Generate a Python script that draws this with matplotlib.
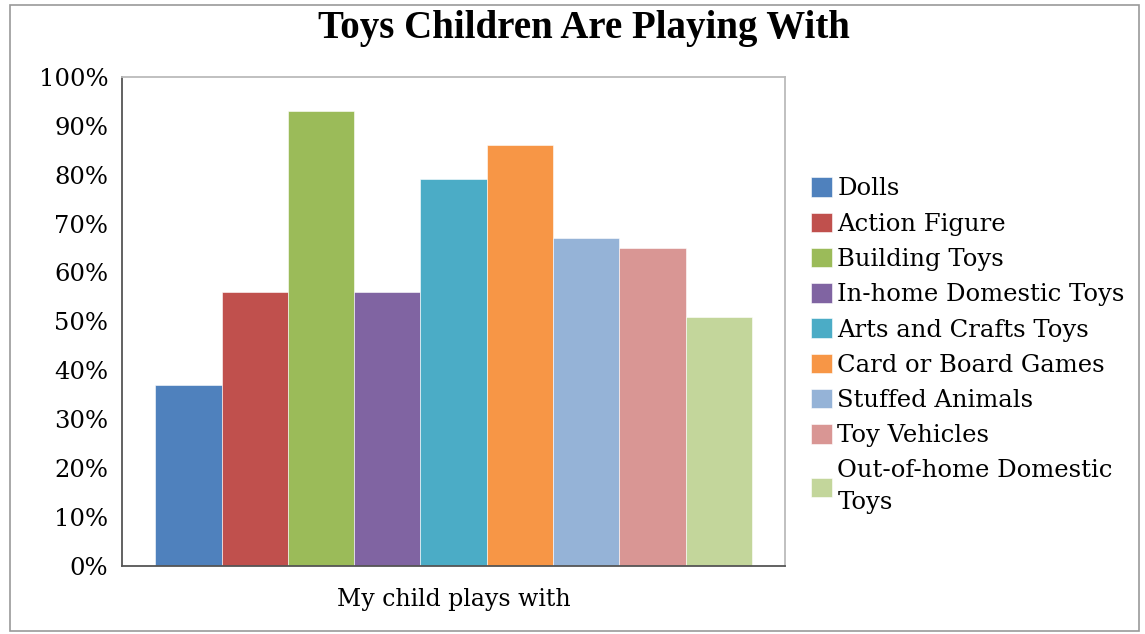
import matplotlib
matplotlib.use("Agg")
import matplotlib.pyplot as plt
from matplotlib.patches import Rectangle

# chart data
title = "Toys Children Are Playing With"
group_label = "My child plays with"
toys = ["Dolls", "Action Figure", "Building Toys", "In-home Domestic Toys",
        "Arts and Crafts Toys", "Card or Board Games", "Stuffed Animals",
        "Toy Vehicles", "Out-of-home Domestic\nToys"]
shares = [37, 56, 93, 56, 79, 86, 67, 65, 51]
colors = ["#4F81BD", "#C0504D", "#9BBB59", "#8064A2", "#4BACC6",
          "#F79646", "#95B3D7", "#D99694", "#C3D69B"]
yticks = [0, 10, 20, 30, 40, 50, 60, 70, 80, 90, 100]

serif = "DejaVu Serif"

fig = plt.figure(figsize=(11.45, 6.34), dpi=100)
ax = fig.add_axes([0.1066, 0.107, 0.579, 0.772])

# grouped bars: one category, nine series, gap width 100%
n = len(shares)
width = 1.0 / (n + 1)
for i, (name, val, c) in enumerate(zip(toys, shares, colors)):
    x = (i - (n - 1) / 2) * width
    ax.bar(x, val, width, color=c, edgecolor="white", linewidth=0.4, label=name)

ax.set_xlim(-0.5, 0.5)
ax.set_ylim(0, 100)
ax.set_yticks(yticks)
ax.set_yticklabels(["%d%%" % t for t in yticks], fontsize=17.5, family=serif)
ax.set_xticks([0])
ax.set_xticklabels([group_label], fontsize=17, family=serif)
ax.tick_params(axis="both", length=0)
ax.tick_params(axis="y", pad=10)
ax.tick_params(axis="x", pad=16)

for s in ["left", "bottom"]:
    ax.spines[s].set_color("#555555")
    ax.spines[s].set_linewidth(1.3)
for s in ["top", "right"]:
    ax.spines[s].set_color("#BBBBBB")
    ax.spines[s].set_linewidth(1.3)

leg = ax.legend(loc="center left", bbox_to_anchor=(1.025, 0.45), frameon=False,
                prop={"family": serif, "size": 17.5}, handlelength=0.85,
                handleheight=0.85, handletextpad=0.22, labelspacing=0.5,
                borderaxespad=0)
for t in leg.get_texts():
    t.set_linespacing(1.5)

fig.text(0.51, 0.955, title, ha="center", va="center", fontsize=28,
         fontweight="bold", family="Liberation Serif")

# outer chart border
fig.patches.append(Rectangle((0.009, 0.004), 0.986, 0.988, transform=fig.transFigure,
                             fill=False, edgecolor="#999999", linewidth=1.2))

fig.savefig("out.png", dpi=100)
